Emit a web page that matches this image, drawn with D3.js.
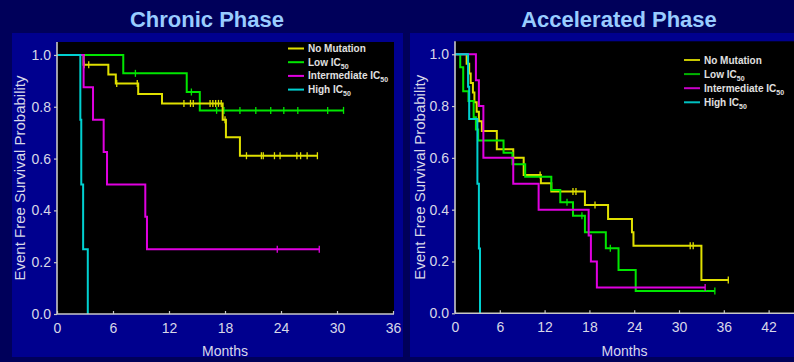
<!DOCTYPE html>
<html>
<head>
<meta charset="utf-8">
<script src="https://cdn.jsdelivr.net/npm/d3@7"></script>
<style>
  html, body { margin: 0; padding: 0; background: #00005a; }
  svg { display: block; font-family: "Liberation Sans", Arial, sans-serif; }
</style>
</head>
<body>
<svg id="chart" width="794" height="362"></svg>
<script>
// legend / series names
const seriesNames = ["No Mutation", "Low IC", "Intermediate IC", "High IC"];
const seriesColors = ["#e0e000", "#00e600", "#e000e0", "#00d0d0"];
const legendColorsAccel = ["#c8c800", "#00b400", "#c800c8", "#00c0c0"];
const xTicksChronic = [0, 6, 12, 18, 24, 30, 36];
const xTicksAccel = [0, 6, 12, 18, 24, 30, 36, 42];
const yTicks = [0, 0.2, 0.4, 0.6, 0.8, 1.0];

// Chronic phase: steps are [month, survival after the drop]; censored are months
const cpNoMutation = [[2.85, 0.962], [5.5, 0.925], [6.3, 0.89], [8.7, 0.849], [11.25, 0.813], [17.75, 0.75], [18.1, 0.682], [19.6, 0.611]];
const cpNoMutationCensored = [2.9, 3.4, 6.4, 8.6, 13.6, 14.3, 14.6, 16.4, 16.7, 17.0, 17.3, 17.6, 18.0, 20.3, 21.9, 22.1, 23.3, 23.9, 25.7, 26.1, 26.8, 27.9];
const cpLow = [[7.1, 0.929], [13.9, 0.857], [15.3, 0.786]];
const cpLowCensored = [8.4, 14.4, 17.1, 17.9, 19.6, 21.3, 22.9, 24.3, 25.8, 29.0, 30.7];
const cpIntermediate = [[2.85, 0.875], [3.86, 0.75], [5.0, 0.625], [5.36, 0.5], [9.46, 0.375], [9.64, 0.25]];
const cpIntermediateCensored = [23.6, 28.1];
const cpHigh = [[2.5, 0.75], [2.6, 0.5], [2.8, 0.25], [3.3, 0]];
const cpHighCensored = [];

// Accelerated phase
const apNoMutation = [[1.56, 0.963], [1.9, 0.926], [2.1, 0.889], [2.4, 0.852], [2.6, 0.815], [2.9, 0.778], [3.2, 0.741], [3.6, 0.704], [5.6, 0.633], [7.8, 0.6], [9.2, 0.534], [11.5, 0.502], [12.9, 0.47], [17.4, 0.418], [20.5, 0.364], [23.7, 0.313], [23.9, 0.261], [33.0, 0.129]];
const apNoMutationCensored = [11.4, 15.8, 16.2, 18.75, 31.5, 31.9, 36.6];
const apLow = [[0.7, 0.95], [1.1, 0.857], [1.8, 0.82], [2.5, 0.757], [2.8, 0.71], [3.1, 0.667], [6.5, 0.62], [7.7, 0.575], [9.4, 0.527], [12.9, 0.476], [14.1, 0.429], [15.8, 0.377], [17.4, 0.313], [20.2, 0.251], [21.9, 0.167], [24.2, 0.086]];
const apLowCensored = [15.0, 17.0, 20.8, 34.8];
const apIntermediate = [[2.8, 0.9], [3.2, 0.8], [3.8, 0.6], [7.8, 0.5], [11.2, 0.4], [17.9, 0.3], [18.2, 0.2], [19.0, 0.1]];
const apIntermediateCensored = [33.5];
const apHigh = [[1.75, 0.875], [1.9, 0.75], [3.0, 0.5], [3.2, 0.25], [3.35, 0]];
const apHighCensored = [];

const svg = d3.select("#chart");

const panels = [
  {
    title: "Chronic Phase", titleX: 207,
    box: [12, 33, 391, 324],
    plot: { left: 57, right: 393, top: 42, bottom: 314, blackRight: 394 },
    xMax: 36, xTicks: xTicksChronic, yLabelX: 25,
    legend: { x: 288, y: 48.5, step: 13.7, colors: seriesColors },
    series: [
      [cpLow, cpLowCensored, 1],
      [cpNoMutation, cpNoMutationCensored, 0],
      [cpIntermediate, cpIntermediateCensored, 2],
      [cpHigh, cpHighCensored, 3]
    ]
  },
  {
    title: "Accelerated Phase", titleX: 619,
    box: [410, 33, 384, 324],
    plot: { left: 455, right: 794, top: 41.3, bottom: 313.3, blackRight: 794 },
    xMax: 45.4, xTicks: xTicksAccel, yLabelX: 425,
    legend: { x: 684, y: 60, step: 14.1, colors: legendColorsAccel },
    series: [
      [apNoMutation, apNoMutationCensored, 0],
      [apLow, apLowCensored, 1],
      [apIntermediate, apIntermediateCensored, 2],
      [apHigh, apHighCensored, 3]
    ]
  }
];

// survival value at time t for a step list
function survAt(steps, t) {
  let s = 1;
  steps.forEach(d => { if (d[0] <= t) s = d[1]; });
  return s;
}

panels.forEach(p => {
  const g = svg.append("g");
  const [bx, by, bw, bh] = p.box;
  g.append("rect").attr("x", bx).attr("y", by).attr("width", bw).attr("height", bh).attr("fill", "#00008e");

  g.append("text")
    .attr("x", p.titleX).attr("y", 27)
    .attr("text-anchor", "middle")
    .style("font-size", "22px").style("font-weight", "bold")
    .attr("fill", "#99ccff")
    .text(p.title);

  const pl = p.plot;
  g.append("rect")
    .attr("x", pl.left).attr("y", pl.top)
    .attr("width", pl.blackRight - pl.left).attr("height", pl.bottom - pl.top)
    .attr("fill", "#000");

  const x = d3.scaleLinear().domain([0, p.xMax]).range([pl.left, pl.right]);
  const y = d3.scaleLinear().domain([0, 1.05]).range([pl.bottom, pl.top]);

  // curves
  const line = d3.line().x(d => x(d[0])).y(d => y(d[1]));
  p.series.forEach(([steps, censored, ci]) => {
    const pts = [[0, 1]];
    let s = 1;
    steps.forEach(d => { pts.push([d[0], s]); pts.push([d[0], d[1]]); s = d[1]; });
    const lastT = d3.max([steps[steps.length - 1][0], d3.max(censored) || 0]);
    pts.push([lastT, s]);
    g.append("path").attr("d", line(pts))
      .attr("fill", "none").attr("stroke", seriesColors[ci]).attr("stroke-width", 2);
    g.selectAll(null).data(censored).enter().append("line")
      .attr("x1", d => x(d)).attr("x2", d => x(d))
      .attr("y1", d => y(survAt(steps, d)) - 3.5)
      .attr("y2", d => y(survAt(steps, d)) + 3.5)
      .attr("stroke", seriesColors[ci]).attr("stroke-width", 1.3);
  });

  // axes
  const xAxis = g.append("g").attr("transform", `translate(0,${pl.bottom})`)
    .call(d3.axisBottom(x).tickValues(p.xTicks).tickSize(-3).tickSizeOuter(0).tickPadding(9).tickFormat(d3.format("d")));
  const yAxis = g.append("g").attr("transform", `translate(${pl.left},0)`)
    .call(d3.axisLeft(y).tickValues(yTicks).tickSize(3).tickSizeOuter(0).tickPadding(3).tickFormat(d3.format(".1f")));
  [xAxis, yAxis].forEach(a => {
    a.select(".domain").attr("stroke", "#c8c8c8").attr("stroke-width", 1.6);
    a.selectAll(".tick line").attr("stroke", "#c8c8c8").attr("stroke-width", 1.2);
    a.selectAll(".tick text").attr("fill", "#d8d8e8").style("font-size", "14px").style("font-family", "'Liberation Sans', Arial, sans-serif");
  });
  xAxis.select(".domain").attr("d", `M${pl.left},0H${pl.blackRight}`);
  yAxis.select(".domain").attr("d", `M0,${pl.bottom}V${pl.top}`);

  g.append("text")
    .attr("x", (pl.left + pl.right) / 2).attr("y", 356)
    .attr("text-anchor", "middle")
    .attr("fill", "#d8d8e8").style("font-size", "14px")
    .text("Months");

  g.append("text")
    .attr("transform", `translate(${p.yLabelX},${(pl.top + pl.bottom) / 2}) rotate(-90)`)
    .attr("text-anchor", "middle")
    .attr("fill", "#d8d8e8").style("font-size", "15px")
    .text("Event Free Survival Probability");

  // legend
  const lg = g.append("g");
  seriesNames.forEach((name, i) => {
    const ly = p.legend.y + i * p.legend.step;
    lg.append("line")
      .attr("x1", p.legend.x).attr("x2", p.legend.x + 16)
      .attr("y1", ly).attr("y2", ly)
      .attr("stroke", p.legend.colors[i]).attr("stroke-width", 2);
    const t = lg.append("text")
      .attr("x", p.legend.x + 20).attr("y", ly + 3.5)
      .attr("fill", "#e0e0e0")
      .style("font-size", "10px").style("font-weight", "bold")
      .style("font-family", "'Liberation Sans Narrow', 'Arial Narrow', sans-serif")
      .style("font-stretch", "condensed")
      .text(name);
    if (i > 0) t.append("tspan").attr("dy", 3).style("font-size", "7px").text("50");
  });
});
</script>
</body>
</html>
